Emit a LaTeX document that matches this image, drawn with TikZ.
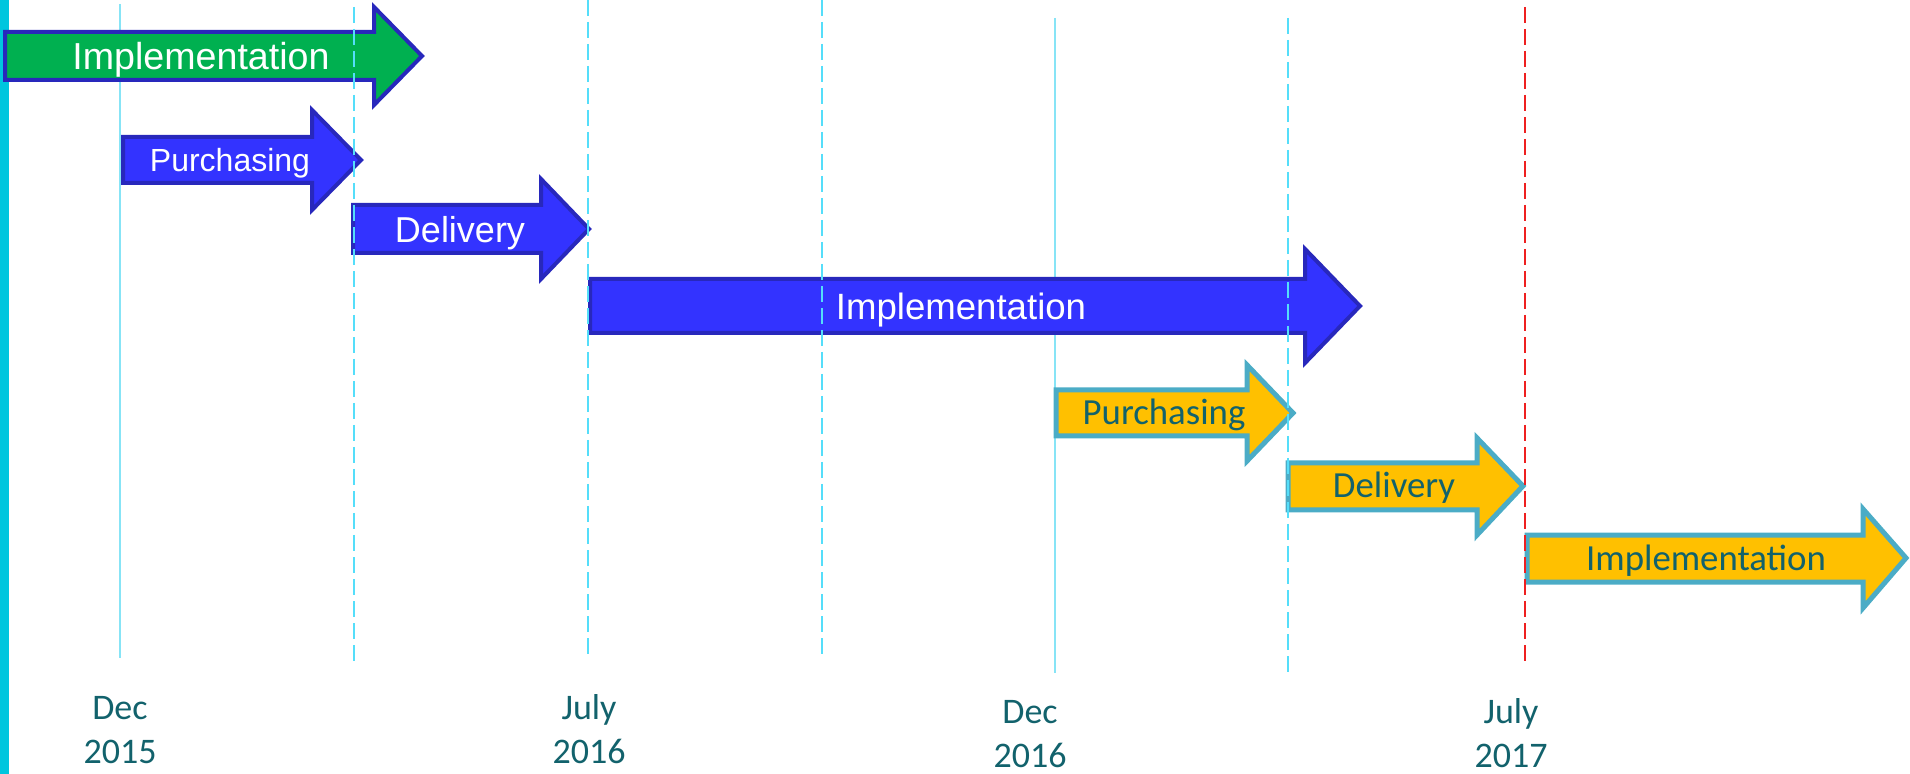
\documentclass[tikz,border=0pt]{standalone}
\usepackage{fontspec}
\setmainfont{Liberation Sans}
\newfontfamily\calibri{Carlito}
\usepackage{tikz}

\definecolor{barcyan}{RGB}{0,198,222}
\definecolor{solidcyan}{RGB}{135,228,246}
\definecolor{dashcyan}{RGB}{85,222,250}
\definecolor{cutred}{RGB}{238,32,32}
\definecolor{phasegreen}{RGB}{0,176,80}
\definecolor{phaseblue}{RGB}{51,51,255}
\definecolor{phaseyellow}{RGB}{255,192,0}
\definecolor{edgeblue}{RGB}{40,40,188}
\definecolor{edgeteal}{RGB}{75,172,198}
\definecolor{darkteal}{RGB}{18,98,108}

\tikzset{
  solidtick/.style={draw=solidcyan, line width=1pt},
  dashtick/.style={draw=dashcyan, line width=1pt, dash pattern=on 8pt off 3pt},
  redtick/.style={draw=cutred, line width=1pt, dash pattern=on 8pt off 3pt},
  oldphase/.style={draw=edgeblue, line width=2pt, line join=miter},
  newphase/.style={draw=edgeteal, line width=2.5pt, fill=phaseyellow, line join=miter},
  oldtext/.style={text=white, inner sep=0pt, anchor=base},
  newtext/.style={text=darkteal, inner sep=0pt, anchor=base, font=\calibri\fontsize{18.4}{22}\selectfont},
  datetext/.style={text=darkteal, inner sep=0pt, anchor=base, align=center, font=\calibri\fontsize{18}{22}\selectfont}
}

\begin{document}
\begin{tikzpicture}[x=0.5pt, y=-0.5pt]
    \useasboundingbox (0,0) rectangle (1910,774);
    % bar on the left
    \fill[barcyan] (0,0) rectangle (9,774);

    % solid month lines, behind the arrows
    \draw[solidtick] (120,4) -- (120,658);
    \draw[solidtick] (1055,18) -- (1055,673);

    % first project
    %% Implementation
    \draw[oldphase, fill=phasegreen] (5,32) -- (374,32) -- (374,7) -- (422,56) -- (374,105) -- (374,80) -- (5,80) -- cycle;
    \node[oldtext, font=\fontsize{18.8}{22}\selectfont] (impla) at (201,70) {Implementation};

    % second project
    %% Purchasing
    \draw[oldphase, fill=phaseblue] (123,137) -- (312,137) -- (312,110) -- (361,160) -- (312,210) -- (312,183) -- (123,183) -- cycle;
    \node[oldtext, font=\fontsize{16}{20}\selectfont] (purchb) at (230,172) {Purchasing};
    %% Delivery
    \draw[oldphase, fill=phaseblue] (353,205) -- (541,205) -- (541,179) -- (589,229) -- (541,279) -- (541,253) -- (353,253) -- cycle;
    \node[oldtext, font=\fontsize{18}{22}\selectfont] (delivb) at (460,243) {Delivery};
    %% Implementation
    \draw[oldphase, fill=phaseblue] (590,279) -- (1305,279) -- (1305,249) -- (1360,306) -- (1305,363) -- (1305,333) -- (590,333) -- cycle;
    \node[oldtext, font=\fontsize{18.3}{22}\selectfont] (implb) at (961,320) {Implementation};

    % third project
    %% Purchasing
    \draw[newphase] (1056,390) -- (1247,390) -- (1247,365) -- (1293,413) -- (1247,461) -- (1247,436) -- (1056,436) -- cycle;
    \node[newtext] (purchc) at (1164,425) {Purchasing};
    %% Delivery
    \draw[newphase] (1288,463) -- (1477,463) -- (1477,438) -- (1523,486) -- (1477,535) -- (1477,510) -- (1288,510) -- cycle;
    \node[newtext] (delivc) at (1394,498) {Delivery};
    %% Implementation
    \draw[newphase] (1527,535) -- (1863,535) -- (1863,509) -- (1906,558) -- (1863,608) -- (1863,582) -- (1527,582) -- cycle;
    \node[newtext] (implc) at (1706,570) {Implementation};

    % dashed month lines, over the arrows
    \draw[dashtick] (354,7) -- (354,662);
    \draw[dashtick] (588,0) -- (588,657);
    \draw[dashtick] (822,0) -- (822,657);
    \draw[dashtick] (1288,18) -- (1288,672);
    \draw[redtick] (1525,7) -- (1525,662);

    % dates (base is the second line)
    \node[datetext] (dec15) at (120,763) {Dec\\2015};
    \node[datetext] (jul16) at (589,763) {July\\2016};
    \node[datetext] (dec16) at (1030,767) {Dec\\2016};
    \node[datetext] (jul17) at (1511,767) {July\\2017};
\end{tikzpicture}
\end{document}
